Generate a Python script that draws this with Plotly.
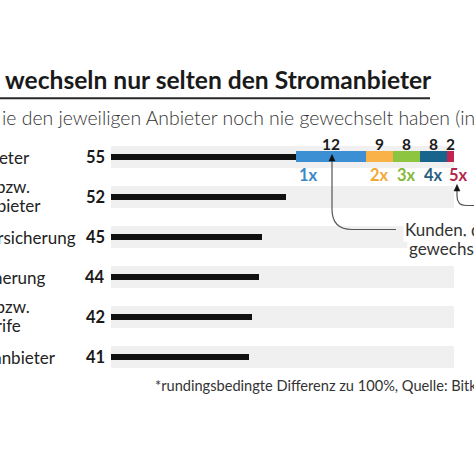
import plotly.graph_objects as go

W, H = 474, 463

providers = [
    ["Stromanbieter"],
    ["Festnetz- bzw.", "Internetanbieter"],
    ["Kfz-Versicherung"],
    ["Haftpflichtversicherung"],
    ["Handy- bzw.", "Mobilfunktarife"],
    ["Gasanbieter"],
]
never_switched = [55, 52, 45, 44, 42, 41]

switch_counts = ["1x", "2x", "3x", "4x", "5x"]
switch_shares = [12, 9, 8, 8, 2]
# segment lengths as they are drawn in the graphic (not to scale with the labels)
switch_drawn = [21, 8, 8, 8, 2]
switch_colors = ["#3d8fd4", "#f9b248", "#8dc540", "#17648c", "#c4234f"]
switch_text_colors = ["#3b88c6", "#f2a935", "#86b83a", "#2b5f80", "#b5264c"]

title = "wechseln nur selten den Stromanbieter"
subtitle = "ie den jeweiligen Anbieter noch nie gewechselt haben (in %)"
footnote = "*rundingsbedingte Differenz zu 100%, Quelle: Bitkom Research"
callout = ["Kunden, die den Anbieter", "gewechselt haben"]

# pixel geometry of the original
X0, PXU = 111, 3.36          # px of value 0, px per percentage point
Y0, ROW = 156.7, 40          # px of first row centre, row pitch
FONT = "Lato"
FONT_LIGHT = "Lato Light, Lato"


def px(x):
    return x / W


def py(y):
    return 1 - y / H


def pt(x, y):
    return f"{px(x):.5f},{py(y):.5f}"


def note(x, y, text, size, color="#222222", anchor="left", family=FONT, **kw):
    fig.add_annotation(x=px(x), y=py(y), xref="paper", yref="paper", text=text,
                       showarrow=False, xanchor=anchor, yanchor="middle",
                       font=dict(family=family, size=size, color=color), **kw)


rows = list(range(len(never_switched)))
track_end = never_switched[0] + sum(switch_drawn)

fig = go.Figure()
fig.add_trace(go.Bar(
    y=rows, x=[track_end] * len(rows), orientation="h", width=0.55,
    marker=dict(color="#f0f0f0", line_width=0), hoverinfo="skip",
))
fig.add_trace(go.Bar(
    y=rows, x=never_switched, orientation="h", width=0.15,
    marker=dict(color="#111111", line_width=0),
))
base = never_switched[0]
for n, share, drawn, col, tcol in zip(switch_counts, switch_shares, switch_drawn,
                                      switch_colors, switch_text_colors):
    fig.add_trace(go.Bar(
        y=[0], x=[drawn], base=[base], orientation="h", width=0.265,
        marker=dict(color=col, line_width=0), name=n,
    ))
    mid = base + drawn / 2
    fig.add_annotation(
        x=mid, y=0, xref="x", yref="y", text=f"<b>{share}</b>", showarrow=False,
        yanchor="middle", yshift=13, font=dict(family=FONT, size=15.5, color="#1a1a1a"),
    )
    if n == "1x":
        fig.add_annotation(x=base, y=0, xref="x", yref="y", text=f"<b>{n}</b>",
                           showarrow=False, xanchor="left", yanchor="middle",
                           xshift=1, yshift=-18,
                           font=dict(family=FONT, size=16.5, color=tcol))
    else:
        fig.add_annotation(x=mid, y=0, xref="x", yref="y", text=f"<b>{n}</b>",
                           showarrow=False, yanchor="middle",
                           xshift=8 if n == "5x" else 0, yshift=-18,
                           font=dict(family=FONT, size=16.5, color=tcol))
    base += drawn

# value labels and row labels (row labels are cut by the left edge, as in the original)
label_end = [[32], [32, 43], [78], [48], [32, 23], [58]]
for i, (v, lab) in enumerate(zip(never_switched, providers)):
    fig.add_annotation(x=0, y=i, xref="x", yref="y", text=f"<b>{v}</b>",
                       showarrow=False, xanchor="right", yanchor="middle", xshift=-4,
                       font=dict(family=FONT, size=16.5, color="#1a1a1a"))
    yc = Y0 + ROW * i
    if len(lab) == 1:
        note(label_end[i][0], yc + 1, lab[0], 17, anchor="right")
    else:
        for k, line in enumerate(lab):
            note(label_end[i][k], yc - 10 + 19 * k, line, 17, anchor="right")

# title block
note(3, 79, f"<b>{title}</b>", 24.6, color="#1a1a1a")
fig.add_shape(type="line", xref="paper", yref="paper", x0=0, x1=px(430),
              y0=py(98.3), y1=py(98.3), line=dict(color="#2a2a2a", width=2))
note(0, 117, subtitle, 19.4, color="#333333", family=FONT_LIGHT)
note(153, 385, footnote, 14.6, color="#333333")

# callout
note(403, 229, callout[0], 17, color="#333333", bgcolor="white", borderpad=1)
note(407, 248, callout[1], 17, color="#333333", bgcolor="white", borderpad=1)

lc = "#555555"
fig.add_shape(type="path", xref="paper", yref="paper",
              path=f"M {pt(396, 229.5)} L {pt(352, 229.5)} Q {pt(332, 229.5)} {pt(332, 209)} L {pt(332, 160)}",
              line=dict(color=lc, width=1.2))
fig.add_shape(type="path", xref="paper", yref="paper",
              path=f"M {pt(332, 154.5)} L {pt(329, 161)} L {pt(335, 161)} Z",
              fillcolor="#111111", line=dict(color="#111111", width=0.5))
fig.add_shape(type="path", xref="paper", yref="paper",
              path=f"M {pt(474, 205.5)} L {pt(466, 205.5)} Q {pt(457, 205.5)} {pt(457, 196)} L {pt(457, 190)}",
              line=dict(color=lc, width=1.2))
fig.add_shape(type="path", xref="paper", yref="paper",
              path=f"M {pt(457, 184.5)} L {pt(454, 191)} L {pt(460, 191)} Z",
              fillcolor="#111111", line=dict(color="#111111", width=0.5))

fig.update_layout(
    width=W, height=H, margin=dict(l=0, r=0, t=0, b=0),
    paper_bgcolor="white", plot_bgcolor="white",
    barmode="overlay", showlegend=False, bargap=0,
    xaxis=dict(range=[-X0 / PXU, (W - X0) / PXU], visible=False, fixedrange=True),
    yaxis=dict(range=[(H - Y0) / ROW, -Y0 / ROW], visible=False, fixedrange=True),
)

# the page body has a default 8px margin; drop it so the figure fills the window
fig.write_html("out.html", config={"displayModeBar": False},
               post_script="document.body.style.margin = '0';")
